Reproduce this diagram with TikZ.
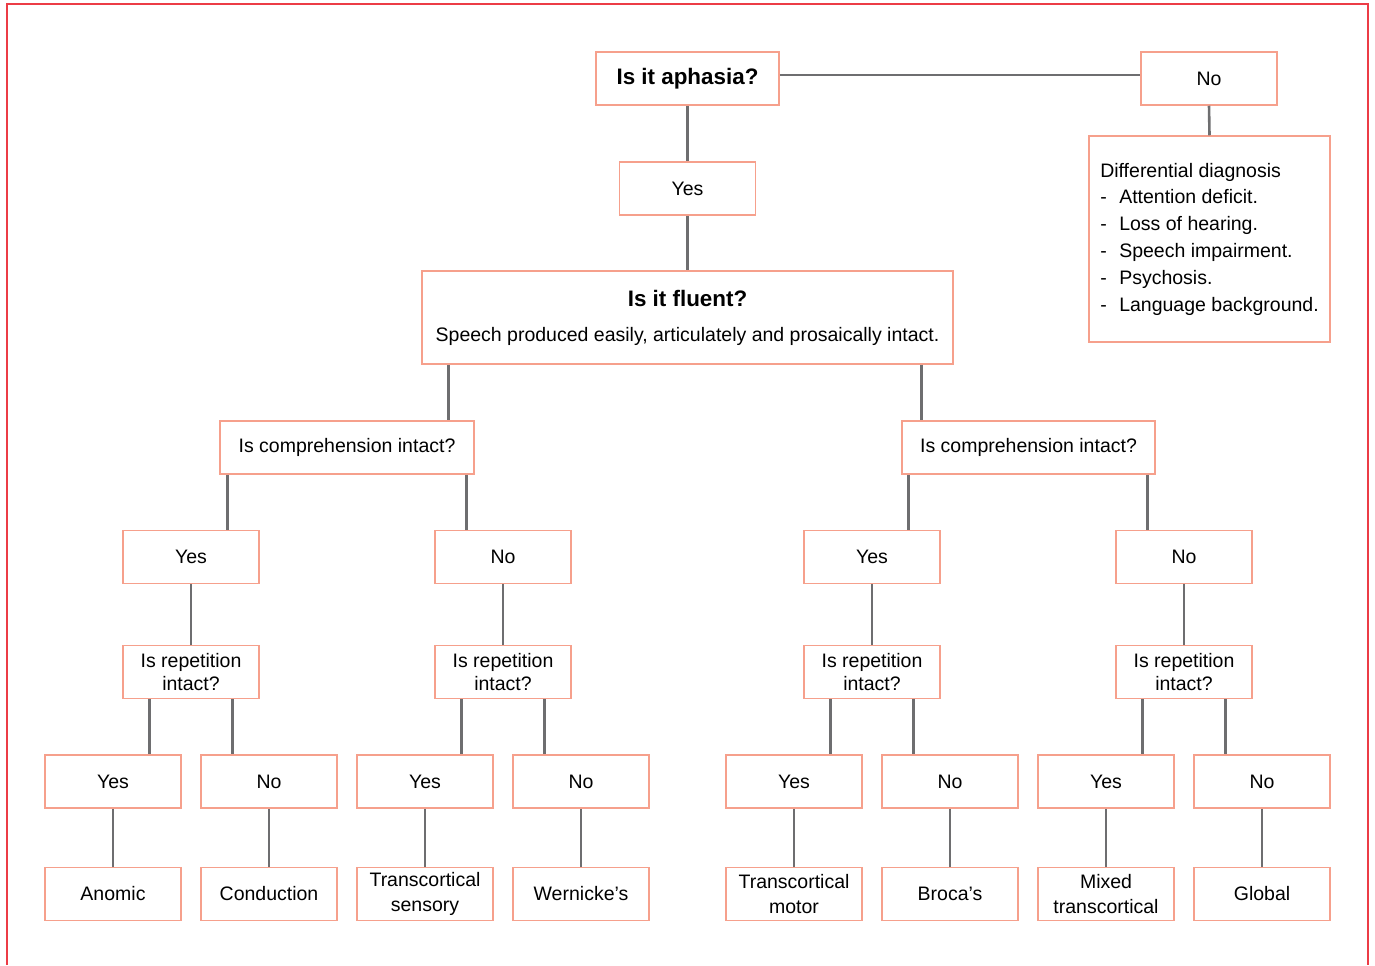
\documentclass[tikz,border=0pt]{standalone}
\usepackage{fontspec}
\setmainfont{Liberation Sans}
\definecolor{boxc}{RGB}{246,160,140}
\definecolor{linec}{RGB}{110,110,112}
\definecolor{framec}{RGB}{236,60,70}
\newcommand{\itemdash}{\makebox[9.5pt][l]{-}}
\tikzset{
  box/.style={draw=boxc, line width=0.75pt, minimum width=68pt, minimum height=26.5pt,
    align=center, inner sep=1pt, font=\fontsize{9.75}{11.5}\selectfont},
  endbox/.style={box, font=\fontsize{9.75}{12.5}\selectfont},
  conn/.style={draw=linec, line width=1.3pt},
}
\begin{document}
\begin{tikzpicture}[x=0.5pt, y=-0.5pt]
\useasboundingbox (0,0) rectangle (1375,965);
\draw[framec, line width=1pt] (7,965) -- (7,4) -- (1368,4) -- (1368,965);

% top of the tree
\node[box, minimum width=91.5pt, font=\bfseries\fontsize{11.2}{13}\selectfont] (aph) at (687.5,78.5) {Is it aphasia?};
\node[box] (noA) at (1209,78.5) {No};
\node[box, minimum width=120.5pt, minimum height=103pt, align=left,
  font=\fontsize{9.75}{13.4}\selectfont] (dd) at (1209.5,239)
  {Differential diagnosis\\
   \itemdash Attention deficit.\\
   \itemdash Loss of hearing.\\
   \itemdash Speech impairment.\\
   \itemdash Psychosis.\\
   \itemdash Language background.};
\node[box] (yesA) at (687.5,188.5) {Yes};
\node[box, minimum width=265.5pt, minimum height=46.5pt] (flu) at (687.5,317.5)
  {{\bfseries\fontsize{11.2}{13}\selectfont Is it fluent?}\\[6pt]
   Speech produced easily, articulately and prosaically intact.};

% comprehension
\node[box, minimum width=127pt] (compL) at (347,447.5) {Is comprehension intact?};
\node[box, minimum width=126.5pt] (compR) at (1028.5,447.5) {Is comprehension intact?};

\node[box] (yesL) at (191,557) {Yes};
\node[box] (noL) at (503,557) {No};
\node[box] (yesR) at (872,557) {Yes};
\node[box] (noR) at (1184,557) {No};

% repetition
\node[box] (repA) at (191,672) {Is repetition\\intact?};
\node[box] (repB) at (503,672) {Is repetition\\intact?};
\node[box] (repC) at (872,672) {Is repetition\\intact?};
\node[box] (repD) at (1184,672) {Is repetition\\intact?};

\node[box] (a3) at (113,781.5) {Yes};
\node[box] (b3) at (269,781.5) {No};
\node[box] (c3) at (425,781.5) {Yes};
\node[box] (d3) at (581,781.5) {No};
\node[box] (e3) at (794,781.5) {Yes};
\node[box] (f3) at (950,781.5) {No};
\node[box] (g3) at (1106,781.5) {Yes};
\node[box] (h3) at (1262,781.5) {No};

% outcomes
\node[endbox] (a4) at (113,894) {Anomic};
\node[endbox] (b4) at (269,894) {Conduction};
\node[endbox] (c4) at (425,894) {Transcortical\\sensory};
\node[endbox] (d4) at (581,894) {Wernicke’s};
\node[endbox] (e4) at (794,894) {Transcortical\\motor};
\node[endbox] (f4) at (950,894) {Broca’s};
\node[endbox] (g4) at (1106,894) {Mixed\\transcortical};
\node[endbox] (h4) at (1262,894) {Global};

% connectors
\draw[conn] ([yshift=1.75pt]aph.east) -- ([yshift=1.75pt]noA.west);
\draw[conn] (noA.south) -- (dd.north);
\draw[conn] (aph.south) -- (yesA.north);
\draw[conn] (yesA.south) -- (flu.north);
\draw[conn] ([xshift=13.5pt]flu.south west) coordinate (t) -- (t |- compL.north);
\draw[conn] ([xshift=-16pt]flu.south east) coordinate (t) -- (t |- compR.north);
\draw[conn] ([xshift=4pt]compL.south west) coordinate (t) -- (t |- yesL.north);
\draw[conn] ([xshift=-4pt]compL.south east) coordinate (t) -- (t |- noL.north);
\draw[conn] ([xshift=3.5pt]compR.south west) coordinate (t) -- (t |- yesR.north);
\draw[conn] ([xshift=-4pt]compR.south east) coordinate (t) -- (t |- noR.north);
\draw[conn] (yesL.south) -- (repA.north);
\draw[conn] (noL.south) -- (repB.north);
\draw[conn] (yesR.south) -- (repC.north);
\draw[conn] (noR.south) -- (repD.north);
\draw[conn] ([xshift=13.5pt]repA.south west) coordinate (t) -- (t |- a3.north);
\draw[conn] ([xshift=-13.5pt]repA.south east) coordinate (t) -- (t |- b3.north);
\draw[conn] ([xshift=13.5pt]repB.south west) coordinate (t) -- (t |- c3.north);
\draw[conn] ([xshift=-13.5pt]repB.south east) coordinate (t) -- (t |- d3.north);
\draw[conn] ([xshift=13.5pt]repC.south west) coordinate (t) -- (t |- e3.north);
\draw[conn] ([xshift=-13.5pt]repC.south east) coordinate (t) -- (t |- f3.north);
\draw[conn] ([xshift=13.5pt]repD.south west) coordinate (t) -- (t |- g3.north);
\draw[conn] ([xshift=-13.5pt]repD.south east) coordinate (t) -- (t |- h3.north);
\draw[conn] (a3.south) -- (a4.north);
\draw[conn] (b3.south) -- (b4.north);
\draw[conn] (c3.south) -- (c4.north);
\draw[conn] (d3.south) -- (d4.north);
\draw[conn] (e3.south) -- (e4.north);
\draw[conn] (f3.south) -- (f4.north);
\draw[conn] (g3.south) -- (g4.north);
\draw[conn] (h3.south) -- (h4.north);
\end{tikzpicture}
\end{document}
